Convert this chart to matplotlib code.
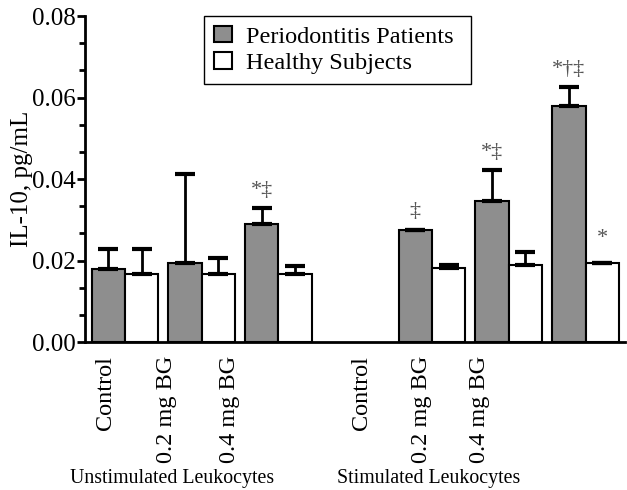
import numpy as np
import matplotlib.pyplot as plt
from matplotlib.ticker import AutoMinorLocator

plt.rcParams['font.family'] = ['Liberation Serif', 'DejaVu Serif']

# datos
grupos = np.array([0, 1, 2, 4, 5, 6])
etiquetas = ['Control', '0.2 mg BG', '0.4 mg BG', 'Control', '0.2 mg BG', '0.4 mg BG']
pos_etiquetas = [-0.25, 0.545, 1.36, 3.08, 3.86, 4.62]
perio = [0.0180, 0.0194, 0.0290, 0.0274, 0.0346, 0.0580]
perio_err = [0.0048, 0.0218, 0.0039, 0.0002, 0.0076, 0.0045]
sanos = [0.0168, 0.0168, 0.0168, 0.0182, 0.0188, 0.0194]
sanos_err = [0.0060, 0.0038, 0.0019, 0.0008, 0.0033, 0.0001]
marcas_perio = ['', '', '*‡', '‡', '*‡', '*†‡']
marcas_sanos = ['', '', '', '', '', '*']

w = 0.435
fig = plt.figure(figsize=(6.27, 4.90), dpi=100)
ax = fig.add_axes([0.1356, 0.302, 0.862, 0.665])

ax.bar(grupos - w/2, perio, w, color='#8e8e8e', edgecolor='black', linewidth=1.5,
       label='Periodontitis Patients')
ax.bar(grupos + w/2, sanos, w, color='white', edgecolor='black', linewidth=1.5,
       label='Healthy Subjects')
ax.errorbar(grupos - w/2, perio, yerr=[np.zeros(6), perio_err], fmt='none',
            ecolor='black', elinewidth=2, capsize=7, capthick=3)
ax.errorbar(grupos + w/2, sanos, yerr=[np.zeros(6), sanos_err], fmt='none',
            ecolor='black', elinewidth=2, capsize=7, capthick=3)

for x, y, e, m in zip(grupos - w/2, perio, perio_err, marcas_perio):
    if m:
        ax.text(x, y + e + 0.002, m, ha='center', va='bottom', fontsize=16, color='#555555')
for x, y, e, m in zip(grupos + w/2, sanos, sanos_err, marcas_sanos):
    if m:
        ax.text(x, y + e + 0.0035, m, ha='center', va='bottom', fontsize=16, color='#555555')

ax.set_xlim(-0.52, 6.52)
ax.set_ylim(0, 0.08)
ax.set_yticks([0, 0.02, 0.04, 0.06, 0.08])
ax.set_yticklabels(['0.00', '0.02', '0.04', '0.06', '0.08'], fontsize=18)
ax.yaxis.set_minor_locator(AutoMinorLocator(3))
ax.tick_params(axis='y', which='major', length=6, width=2, pad=1)
ax.tick_params(axis='y', which='minor', length=4, width=2)
ax.set_xticks(pos_etiquetas)
ax.set_xticklabels(etiquetas, rotation=90, fontsize=17.5)
ax.tick_params(axis='x', length=0, pad=10)
ax.set_ylabel('IL-10, pg/mL', fontsize=18)
ax.yaxis.set_label_coords(-0.097, 0.5)

for s in ['top', 'right']:
    ax.spines[s].set_visible(False)
for s in ['left', 'bottom']:
    ax.spines[s].set_linewidth(2)

ax.text(0.62, -0.0334, 'Unstimulated Leukocytes', ha='center', va='center', fontsize=14.3)
ax.text(3.95, -0.0334, 'Stimulated Leukocytes', ha='center', va='center', fontsize=14.3)

leg = ax.legend(loc='upper left', bbox_to_anchor=(0.22, 0.0, 0.495, 1.0), mode='expand',
                borderaxespad=0, fontsize=17.5, fancybox=False, edgecolor='black',
                framealpha=1, handlelength=0.75, handleheight=0.65, handletextpad=0.6,
                labelspacing=0.2, borderpad=0.4)
leg.get_frame().set_linewidth(1)

fig.savefig('out.png', dpi=100)
